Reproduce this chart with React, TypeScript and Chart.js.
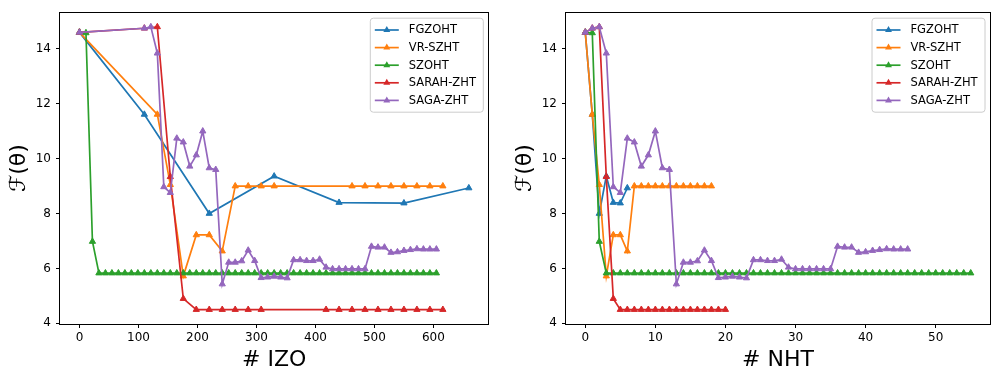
import React, { useEffect, useRef } from 'react';
import { Chart, registerables } from 'chart.js';

Chart.register(...registerables);

// ---------- data ----------
const SERIES_NAMES = ['FGZOHT', 'VR-SZHT', 'SZOHT', 'SARAH-ZHT', 'SAGA-ZHT'];
const COLORS = ['#1f77b4', '#ff7f0e', '#2ca02c', '#d62728', '#9467bd'];

// FGZOHT
const FG_IZO = [0, 110, 220, 330, 440, 550, 660];
const FG_VAL = [14.6, 11.61, 8.0, 9.36, 8.4, 8.38, 8.93];

// VR-SZHT
const VR_IZO = [0, 132, 154, 176, 198, 220, 242, 264, 286, 308, 330, 462, 484, 506, 528, 550, 572, 594, 616];
const VR_VAL = [14.6, 11.61, 9.05, 5.72, 7.22, 7.22, 6.63, 9.0, 9.0, 9.0, 9.0, 9.0, 9.0, 9.0, 9.0, 9.0, 9.0, 9.0, 9.0];

// SZOHT
const SZ_IZO = [
  0, 11, 22, 33, 44, 55, 66, 77, 88, 99, 110, 121, 132, 143, 154, 165, 176, 187, 198, 209,
  220, 231, 242, 253, 264, 275, 286, 297, 308, 319, 330, 341, 352, 363, 374, 385, 396, 407, 418, 429,
  440, 451, 462, 473, 484, 495, 506, 517, 528, 539, 550, 561, 572, 583, 594, 605,
];
const SZ_VAL = [
  14.6, 14.58, 6.98, 5.83, 5.83, 5.83, 5.83, 5.83, 5.83, 5.83, 5.83, 5.83, 5.83, 5.83, 5.83, 5.83, 5.83, 5.83, 5.83, 5.83,
  5.83, 5.83, 5.83, 5.83, 5.83, 5.83, 5.83, 5.83, 5.83, 5.83, 5.83, 5.83, 5.83, 5.83, 5.83, 5.83, 5.83, 5.83, 5.83, 5.83,
  5.83, 5.83, 5.83, 5.83, 5.83, 5.83, 5.83, 5.83, 5.83, 5.83, 5.83, 5.83, 5.83, 5.83, 5.83, 5.83,
];

// SARAH-ZHT
const SARAH_IZO = [0, 110, 132, 154, 176, 198, 220, 242, 264, 286, 308, 418, 440, 462, 484, 506, 528, 550, 572, 594, 616];
const SARAH_VAL = [14.6, 14.75, 14.8, 9.34, 4.9, 4.5, 4.5, 4.5, 4.5, 4.5, 4.5, 4.5, 4.5, 4.5, 4.5, 4.5, 4.5, 4.5, 4.5, 4.5, 4.5];

// SAGA-ZHT
const SAGA_IZO = [
  0, 110, 121, 132, 143, 154, 165, 176, 187, 198, 209, 220, 231, 242, 253, 264, 275, 286, 297, 308,
  319, 330, 341, 352, 363, 374, 385, 396, 407, 418, 429, 440, 451, 462, 473, 484, 495, 506, 517, 528,
  539, 550, 561, 572, 583, 594, 605,
];
const SAGA_VAL = [
  14.6, 14.75, 14.8, 13.84, 8.97, 8.76, 10.74, 10.6, 9.72, 10.13, 11.0, 9.66, 9.6,
  5.43, 6.22, 6.22, 6.27, 6.66, 6.28, 5.66, 5.68, 5.71, 5.68, 5.65,
  6.31, 6.31, 6.28, 6.28, 6.33, 6.04, 5.98, 5.98, 5.98, 5.98, 5.98, 5.98,
  6.8, 6.77, 6.77, 6.58, 6.6, 6.65, 6.68, 6.71, 6.7, 6.7, 6.7,
];

const ALL_IZO = [FG_IZO, VR_IZO, SZ_IZO, SARAH_IZO, SAGA_IZO];
const ALL_VAL = [FG_VAL, VR_VAL, SZ_VAL, SARAH_VAL, SAGA_VAL];

const LEFT_X_TICKS = [0, 100, 200, 300, 400, 500, 600];
const RIGHT_X_TICKS = [0, 10, 20, 30, 40, 50];
const Y_TICKS = [4, 6, 8, 10, 12, 14];

const LEFT_X_TITLE = '# IZO';
const RIGHT_X_TITLE = '# NHT';
const Y_TITLE = 'ℱ(θ)';

const FONT = 'DejaVu Sans';
Chart.defaults.font.family = FONT;

// ---------- plugins ----------
const framePlugin = {
  id: 'frame',
  afterDatasetsDraw(chart: any) {
    const { ctx, chartArea: a } = chart;
    ctx.save();
    ctx.strokeStyle = '#000';
    ctx.lineWidth = 1;
    const x0 = Math.round(a.left) - 0.5;
    const y0 = Math.round(a.top) + 0.5;
    const x1 = Math.round(a.right) + 0.5;
    const y1 = Math.round(a.bottom) + 0.5;
    ctx.strokeRect(x0, y0, x1 - x0, y1 - y0);
    ctx.restore();
  },
};

function drawTri(ctx: CanvasRenderingContext2D, x: number, y: number, r: number) {
  ctx.beginPath();
  for (let k = 0; k < 3; k++) {
    const ang = -Math.PI / 2 + (k * 2 * Math.PI) / 3;
    const px = x + Math.cos(ang) * r;
    const py = y + Math.sin(ang) * r;
    if (k === 0) ctx.moveTo(px, py);
    else ctx.lineTo(px, py);
  }
  ctx.closePath();
  ctx.fill();
}

const legendPlugin = {
  id: 'mplLegend',
  afterDraw(chart: any) {
    const { ctx, chartArea: a } = chart;
    const W = 113;
    const H = 94;
    const bx = a.right - 5 - W;
    const by = a.top + 6;
    ctx.save();
    ctx.beginPath();
    const r = 3;
    ctx.moveTo(bx + r, by);
    ctx.lineTo(bx + W - r, by);
    ctx.arcTo(bx + W, by, bx + W, by + r, r);
    ctx.lineTo(bx + W, by + H - r);
    ctx.arcTo(bx + W, by + H, bx + W - r, by + H, r);
    ctx.lineTo(bx + r, by + H);
    ctx.arcTo(bx, by + H, bx, by + H - r, r);
    ctx.lineTo(bx, by + r);
    ctx.arcTo(bx, by, bx + r, by, r);
    ctx.closePath();
    ctx.fillStyle = 'rgba(255,255,255,0.8)';
    ctx.fill();
    ctx.strokeStyle = '#cccccc';
    ctx.lineWidth = 1;
    ctx.stroke();
    ctx.font = `11.5px ${FONT}`;
    ctx.textBaseline = 'middle';
    ctx.textAlign = 'left';
    SERIES_NAMES.forEach((name, i) => {
      const cy = by + 11.8 + i * 17.6;
      ctx.strokeStyle = COLORS[i];
      ctx.fillStyle = COLORS[i];
      ctx.lineWidth = 1.7;
      ctx.beginPath();
      ctx.moveTo(bx + 4.5, cy);
      ctx.lineTo(bx + 28.5, cy);
      ctx.stroke();
      drawTri(ctx, bx + 16.5, cy, 4);
      ctx.fillStyle = '#000';
      ctx.fillText(name, bx + 38.5, cy + 0.5);
    });
    ctx.restore();
  },
};

// ---------- chart config ----------
function makeConfig(
  xs: number[][],
  xMin: number,
  xMax: number,
  xTicks: number[],
  xTitle: string,
  padRight: number
): any {
  const datasets = SERIES_NAMES.map((name, i) => ({
    label: name,
    data: ALL_VAL[i].map((v, j) => ({ x: xs[i][j], y: v })),
    borderColor: COLORS[i],
    backgroundColor: COLORS[i],
    borderWidth: 1.7,
    pointStyle: 'triangle',
    pointRadius: 3.6,
    pointBorderWidth: 1,
    pointBorderColor: COLORS[i],
    pointBackgroundColor: COLORS[i],
    tension: 0,
    fill: false,
    order: SERIES_NAMES.length - 1 - i,
  }));
  return {
    type: 'line',
    data: { datasets },
    options: {
      responsive: false,
      maintainAspectRatio: false,
      devicePixelRatio: 1,
      animation: false,
      events: [],
      layout: { padding: { left: 0, top: 4, right: padRight, bottom: 0 } },
      plugins: {
        legend: { display: false },
        tooltip: { enabled: false },
      },
      scales: {
        x: {
          type: 'linear',
          min: xMin,
          max: xMax,
          afterBuildTicks: (s: any) => {
            s.ticks = xTicks.map((v) => ({ value: v }));
          },
          afterFit: (s: any) => {
            s.height = 46;
          },
          ticks: {
            font: { size: 12, family: FONT },
            color: '#000',
            padding: 3,
            maxRotation: 0,
            autoSkip: false,
          },
          grid: { drawOnChartArea: false, drawTicks: true, tickLength: 4, color: '#000', lineWidth: 1 },
          border: { display: false },
          title: {
            display: true,
            text: xTitle,
            color: '#000',
            font: { size: 22, family: FONT, lineHeight: 1 },
            padding: { top: 0, bottom: -1 },
          },
        },
        y: {
          type: 'linear',
          min: 3.975,
          max: 15.335,
          afterBuildTicks: (s: any) => {
            s.ticks = Y_TICKS.map((v) => ({ value: v }));
          },
          afterFit: (s: any) => {
            s.width = 60;
          },
          ticks: {
            font: { size: 12, family: FONT },
            color: '#000',
            padding: 5,
            autoSkip: false,
          },
          grid: { drawOnChartArea: false, drawTicks: true, tickLength: 4, color: '#000', lineWidth: 1 },
          border: { display: false },
          title: {
            display: true,
            text: Y_TITLE,
            color: '#000',
            font: { size: 22, family: FONT },
            padding: { top: 6, bottom: 0 },
          },
        },
      },
    },
    plugins: [framePlugin, legendPlugin],
  };
}

const RIGHT_XS = ALL_VAL.map((vals) => vals.map((_, j) => j));

export default function App() {
  const leftRef = useRef<HTMLCanvasElement | null>(null);
  const rightRef = useRef<HTMLCanvasElement | null>(null);

  useEffect(() => {
    const c1 = new Chart(leftRef.current as HTMLCanvasElement, makeConfig(ALL_IZO, -33, 693, LEFT_X_TICKS, LEFT_X_TITLE, 6.7));
    const c2 = new Chart(rightRef.current as HTMLCanvasElement, makeConfig(RIGHT_XS, -2.75, 57.75, RIGHT_X_TICKS, RIGHT_X_TITLE, 1.6));
    return () => {
      c1.destroy();
      c2.destroy();
    };
  }, []);

  return (
    <div style={{ position: 'absolute', left: 0, top: 0, width: 995, height: 370, background: '#fff' }}>
      <canvas ref={leftRef} width={495} height={370} style={{ position: 'absolute', left: 0, top: 0, width: 495, height: 370 }} />
      <canvas ref={rightRef} width={489} height={370} style={{ position: 'absolute', left: 506, top: 0, width: 489, height: 370 }} />
    </div>
  );
}
